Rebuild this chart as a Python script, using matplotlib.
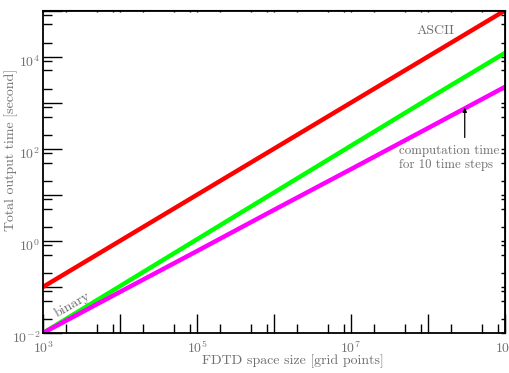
import matplotlib
matplotlib.use("Agg")
import matplotlib.pyplot as plt
from matplotlib.ticker import LogLocator, FixedLocator, FixedFormatter, NullFormatter
from matplotlib.transforms import ScaledTranslation

plt.rcParams['font.family'] = ['cmr10', 'DejaVu Serif']
plt.rcParams['mathtext.fontset'] = 'cm'
plt.rcParams['axes.unicode_minus'] = False

# data
grid_points = [1e3, 1e4, 1e5, 1e6, 1e7, 1e8, 1e9]
ascii_time = [0.1, 1.0, 10.0, 100.0, 1e3, 1e4, 1e5]
binary_time = [0.010, 0.104, 1.08, 11.2, 116.0, 1.2e3, 1.2e4]
compute_time = [0.010, 0.078, 0.60, 4.7, 36.0, 280.0, 2.2e3]

x_decades = [1e3, 1e4, 1e5, 1e6, 1e7, 1e8, 1e9]
x_labels = [r'$10^{3}$', '', r'$10^{5}$', '', r'$10^{7}$', '', r'$10^{9}$']
y_decades = [1e-2, 1e-1, 1e0, 1e1, 1e2, 1e3, 1e4, 1e5]
y_labels = [r'$10^{-2}$', '', r'$10^{0}$', '', r'$10^{2}$', '', r'$10^{4}$', '']

gray = '#707070'

fig = plt.figure(figsize=(5.1, 3.73), dpi=100)
ax = fig.add_axes([43/510, 1-333/373, 462/510, 322.5/373])

ax.plot(grid_points, ascii_time, color='#ff0000', lw=3.2, solid_capstyle='butt')
ax.plot(grid_points, binary_time, color='#00ff00', lw=3.2, solid_capstyle='butt')
ax.plot(grid_points, compute_time, color='#ff00ff', lw=3.2, solid_capstyle='butt')

ax.set_xscale('log')
ax.set_yscale('log')
ax.set_xlim(1e3, 1e9)
ax.set_ylim(1e-2, 1e5)

ax.xaxis.set_major_locator(FixedLocator(x_decades))
ax.xaxis.set_major_formatter(FixedFormatter(x_labels))
ax.xaxis.set_minor_locator(LogLocator(base=10, subs=(2, 5, 8)))
ax.xaxis.set_minor_formatter(NullFormatter())
ax.yaxis.set_major_locator(FixedLocator(y_decades))
ax.yaxis.set_major_formatter(FixedFormatter(y_labels))
ax.yaxis.set_minor_locator(LogLocator(base=10, subs=(2, 5, 8)))
ax.yaxis.set_minor_formatter(NullFormatter())

ax.tick_params(which='major', direction='in', length=14, width=1.0,
               top=False, right=False, labelsize=10, labelcolor=gray)
ax.tick_params(which='minor', direction='in', length=6.5, width=1.0,
               top=False, right=False)
ax.tick_params(axis='x', which='major', pad=5)
ax.tick_params(axis='y', which='major', pad=2)

for s in ax.spines.values():
    s.set_linewidth(1.3)

# short ticks on the right and top
sec_y = ax.secondary_yaxis('right')
sec_y.yaxis.set_major_locator(FixedLocator(y_decades))
sec_y.yaxis.set_minor_locator(LogLocator(base=10, subs=(2, 5, 8)))
sec_y.tick_params(which='both', direction='in', length=3, width=1.0,
                  labelright=False)
sec_y.yaxis.set_minor_formatter(NullFormatter())
sec_x = ax.secondary_xaxis('top')
sec_x.xaxis.set_major_locator(FixedLocator(x_decades))
sec_x.xaxis.set_minor_locator(LogLocator(base=10, subs=(2, 5, 8)))
sec_x.tick_params(which='both', direction='in', length=1.5, width=1.0,
                  labeltop=False)
sec_x.xaxis.set_minor_formatter(NullFormatter())

ax.set_xlabel('FDTD space size [grid points]', fontsize=10, color=gray)
ax.set_ylabel('Total output time [second]', fontsize=10, color=gray)
ax.xaxis.set_label_coords(0.541, -0.066)
ax.yaxis.set_label_coords(-0.055, 0.567)

# y tick labels sit a little below their ticks
down = ScaledTranslation(0, -3/72, fig.dpi_scale_trans)
for lbl in ax.get_yticklabels():
    lbl.set_transform(lbl.get_transform() + down)

ax.text(1.25e8, 3.6e4, 'ASCII', fontsize=10, color=gray, ha='center', va='center')
ax.text(2.4e3, 0.041, 'binary', fontsize=10, color=gray, rotation=30,
        ha='center', va='center')
ax.text(4.2e7, 63, 'computation time\nfor 10 time steps', fontsize=9.3,
        color=gray, ha='left', va='center', linespacing=1.2)
ax.annotate('', xy=(3.0e8, 7.8e2), xytext=(3.0e8, 1.75e2),
            arrowprops=dict(arrowstyle='-|>', color='black', lw=0.9,
                            mutation_scale=6, shrinkA=0, shrinkB=0))

fig.savefig('out.png', dpi=100)
